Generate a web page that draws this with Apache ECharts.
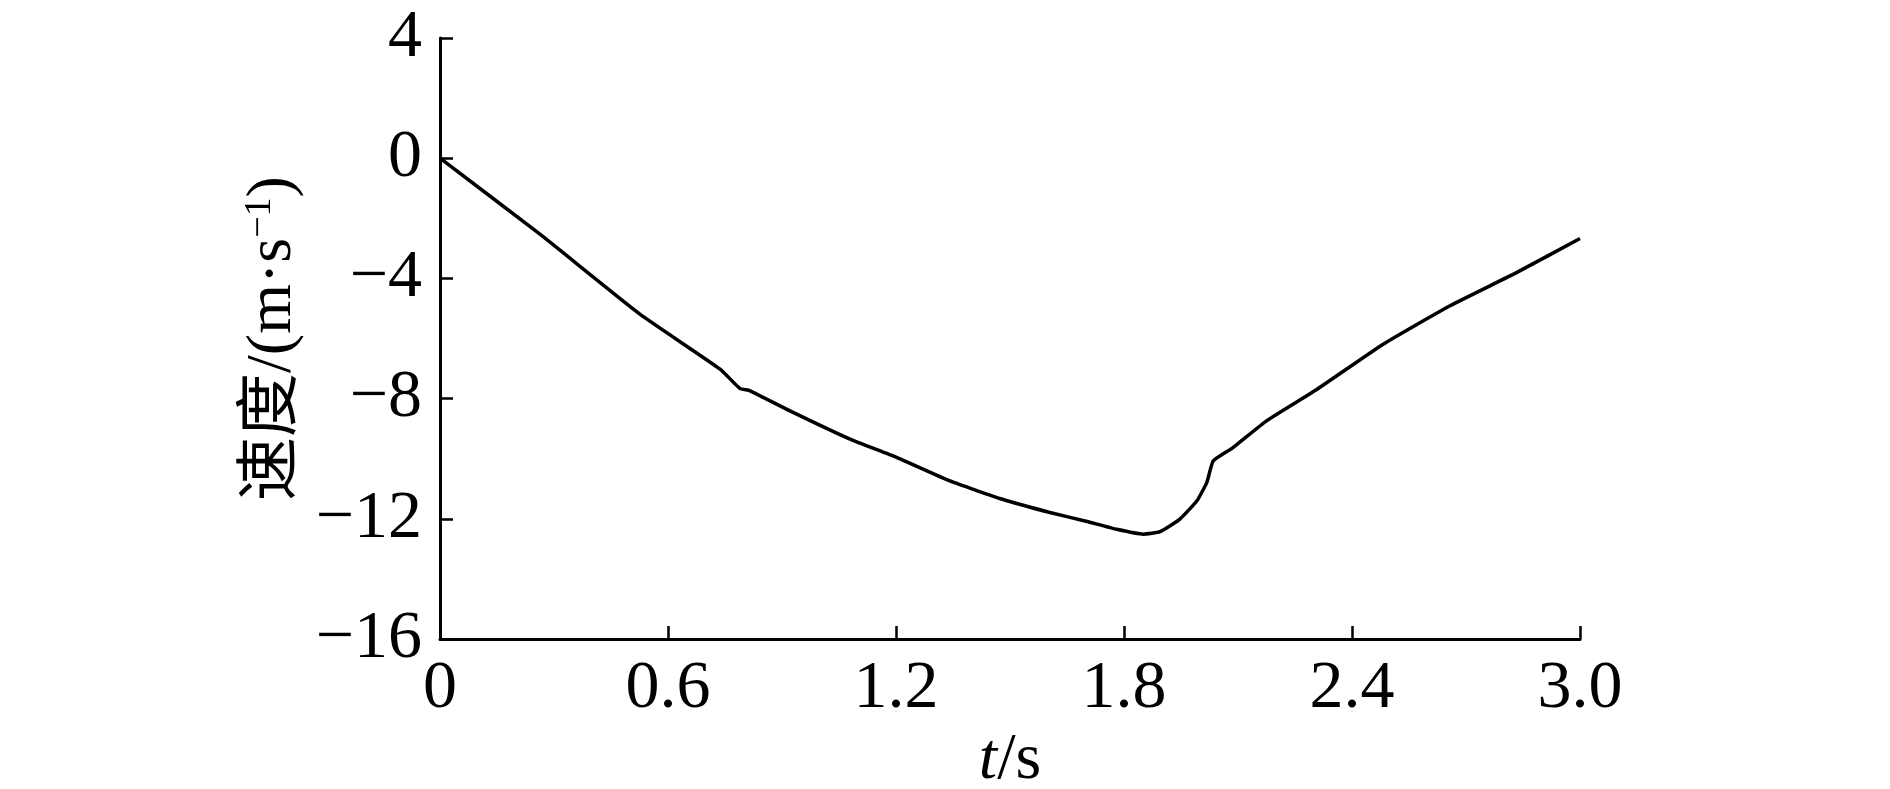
<!DOCTYPE html>
<html>
<head>
<meta charset="utf-8">
<title>速度曲线</title>
<script src="https://cdn.jsdelivr.net/npm/echarts@6/dist/echarts.min.js"></script>
<style>
html, body { margin: 0; padding: 0; background: #fff; }
#chart { width: 1890px; height: 789px; }
</style>
</head>
<body>
<div id="chart"></div>
<script>
// 时间 t/s
var timeS = [0, 0.263, 0.526, 0.737, 0.789, 0.816, 0.921, 1.079, 1.2, 1.342, 1.48, 1.605, 1.7, 1.781, 1.851, 1.895, 1.947, 1.992, 2.018, 2.035, 2.087, 2.175, 2.308, 2.482, 2.658, 2.834, 3.0];
// 速度 m/s
var speed = [0, -2.53, -5.19, -7.02, -7.66, -7.74, -8.41, -9.35, -9.95, -10.74, -11.35, -11.79, -12.08, -12.35, -12.51, -12.43, -12.01, -11.40, -10.79, -10.07, -9.63, -8.74, -7.69, -6.19, -4.91, -3.80, -2.67];
var xTicks = [0, 0.6, 1.2, 1.8, 2.4, 3.0];
var yTicks = [-16, -12, -8, -4, 0, 4];

var serif = '"Liberation Serif", "Noto Sans CJK SC", serif';

initChart();

//初始化曲线图
function initChart() {
	var lineData = [];
	for (var i = 0; i < timeS.length; i++) {
		lineData.push([timeS[i], speed[i]]);
	}
	var chart = echarts.init(document.getElementById('chart'));
	var option = {
		animation: false,
		backgroundColor: '#fff',
		grid: {
			left: 440,
			right: 310,
			top: 38,
			bottom: 150,
			containLabel: false,
			outerBoundsMode: 'none'
		},
		xAxis: {
			type: 'value',
			min: xTicks[0],
			max: xTicks[xTicks.length - 1],
			interval: 0.6,
			name: '{it|t}{n|/s}',
			nameLocation: 'middle',
			nameGap: 65,
			nameTextStyle: {
				rich: {
					it: { fontFamily: serif, fontSize: 66, fontStyle: 'italic', color: '#000' },
					n: { fontFamily: serif, fontSize: 66, color: '#000' }
				}
			},
			axisLine: { onZero: false, lineStyle: { color: '#000', width: 3 } },
			axisTick: { inside: true, length: 13, lineStyle: { color: '#000', width: 2.5 } },
			splitLine: { show: false },
			axisLabel: {
				margin: 16,
				color: '#000',
				fontFamily: serif,
				fontSize: 68,
				formatter: function (v) {
					return v === 0 ? '0' : v.toFixed(1);
				}
			}
		},
		yAxis: {
			type: 'value',
			min: yTicks[0],
			max: yTicks[yTicks.length - 1],
			interval: 4,
			name: '{c|速度/(m·s}{sup|−1}{c|)}',
			nameLocation: 'middle',
			nameRotate: 90,
			nameGap: 128,
			nameTextStyle: {
				rich: {
					c: { fontFamily: serif, fontSize: 64, color: '#000' },
					sup: { fontFamily: serif, fontSize: 38, color: '#000', verticalAlign: 'top', padding: [0, 0, 26, 0] }
				}
			},
			axisLine: { onZero: false, lineStyle: { color: '#000', width: 3 } },
			axisTick: { inside: true, length: 13, lineStyle: { color: '#000', width: 2.5 } },
			splitLine: { show: false },
			axisLabel: {
				margin: 18,
				color: '#000',
				fontFamily: serif,
				fontSize: 68,
				formatter: function (v) {
					return v < 0 ? '\u2212' + Math.abs(v) : String(v);
				}
			}
		},
		series: [
			{
				name: '速度',
				type: 'line',
				data: lineData,
				showSymbol: false,
				symbol: 'none',
				smooth: 0.15,
				lineStyle: { color: '#000', width: 3.5 }
			}
		]
	};
	chart.setOption(option);
}
</script>
</body>
</html>
